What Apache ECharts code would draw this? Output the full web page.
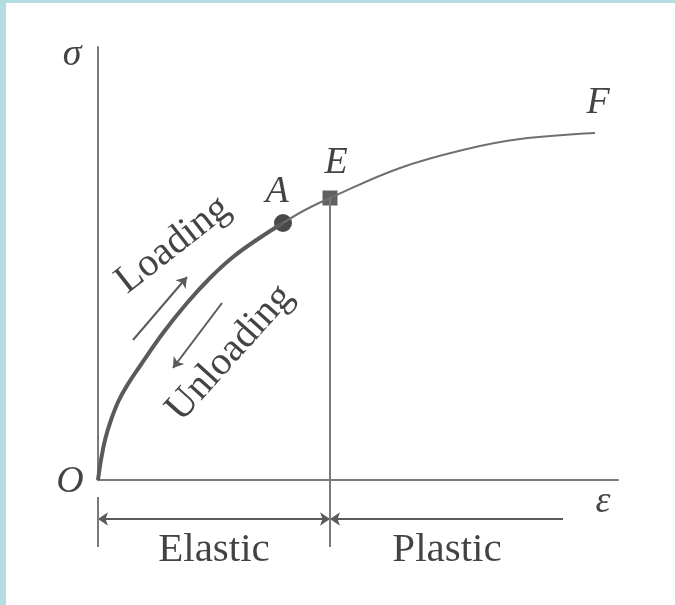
<!DOCTYPE html>
<html>
<head>
<meta charset="utf-8">
<script src="https://cdn.jsdelivr.net/npm/echarts@6/dist/echarts.min.js"></script>
<style>
html,body{margin:0;padding:0;background:#fff;}
#chart{position:absolute;left:0;top:0;width:675px;height:605px;}
.bl{position:absolute;left:0;top:0;width:6px;height:605px;background:#b4dde0;z-index:5;}
.bt{position:absolute;left:0;top:0;width:675px;height:3px;background:#b4dde0;z-index:5;}
</style>
</head>
<body>
<div id="chart"></div>
<div class="bl"></div><div class="bt"></div>
<script>
// Loading branch O -> A (strain, stress in arbitrary units)
const loadStrain = [0, 0.03, 0.07, 0.13, 0.21, 0.30, 0.42, 0.65, 0.89, 1.12, 1.35, 1.60, 1.85];
const loadStress = [0, 0.20, 0.40, 0.60, 0.80, 0.96, 1.14, 1.47, 1.77, 2.02, 2.23, 2.41, 2.57];
// Continuation A -> E -> F
const upperStrain = [1.85, 2.07, 2.32, 3.02, 3.69, 4.22, 4.97];
const upperStress = [2.57, 2.70, 2.82, 3.12, 3.31, 3.41, 3.47];
// Key points
const pointNames = ['A', 'E'];
const pointStrain = [1.85, 2.32];
const pointStress = [2.57, 2.82];
// Dimension levels
const dimLevel = -0.39;
const extBottom = -0.67;
const extTop = -0.17;
const plasticEnd = 4.65;
// Arrows along the curve
const loadArrow = [[0.35, 1.40], [0.89, 2.03]];
const unloadArrow = [[1.24, 1.77], [0.75, 1.12]];
// Text labels
const labelText = ['σ', 'O', 'ε', 'F', 'E', 'A', 'Elastic', 'Plastic', 'Loading', 'Unloading'];
const labelStrain = [-0.26, -0.28, 5.05, 5.00, 2.38, 1.79, 1.16, 3.49, 0.75, 1.32];
const labelStress = [4.25, -0.02, -0.22, 3.77, 3.17, 2.88, -0.70, -0.70, 2.35, 1.27];
const labelRotate = [0, 0, 0, 0, 0, 0, 0, 0, 38, 48];
const labelItalic = [true, true, true, true, true, true, false, false, false, false];

const serif = '"Liberation Serif","DejaVu Serif",serif';
const zip = (a, b) => a.map((v, i) => [v, b[i]]);

const chart = echarts.init(document.getElementById('chart'), null, {renderer: 'canvas'});

const labelData = labelText.map((t, i) => ({
  value: [labelStrain[i], labelStress[i]],
  label: {
    show: true, formatter: t, position: 'inside', rotate: labelRotate[i],
    fontFamily: serif, fontStyle: labelItalic[i] ? 'italic' : 'normal',
    fontSize: labelItalic[i] ? 38 : (i >= 8 ? 40 : 41), color: '#141414',
    align: 'center', verticalAlign: 'middle'
  }
}));

chart.setOption({
  animation: false,
  backgroundColor: 'transparent',
  grid: {left: 98, top: 47, right: 57, bottom: 125, containLabel: false},
  xAxis: {type: 'value', min: 0, max: 5.2, axisLine: {show: true, onZero: false, lineStyle: {color: '#7a7a7a', width: 2}},
    axisTick: {show: false}, axisLabel: {show: false}, splitLine: {show: false}},
  yAxis: {type: 'value', min: 0, max: 4.33, axisLine: {show: true, onZero: false, lineStyle: {color: '#7a7a7a', width: 2}},
    axisTick: {show: false}, axisLabel: {show: false}, splitLine: {show: false}},
  series: [
    {type: 'line', data: zip(loadStrain, loadStress), smooth: 0.4, symbol: 'none', clip: false,
      lineStyle: {color: '#5a5a5a', width: 4}},
    {type: 'line', data: zip(upperStrain, upperStress), smooth: 0.4, symbol: 'none', clip: false,
      lineStyle: {color: '#707070', width: 2}},
    // vertical line at E
    {type: 'line', data: [[pointStrain[1], pointStress[1]], [pointStrain[1], extBottom]], symbol: 'none', clip: false,
      lineStyle: {color: '#7a7a7a', width: 2}},
    // left extension line
    {type: 'line', data: [[0, extTop], [0, extBottom]], symbol: 'none', clip: false,
      lineStyle: {color: '#7a7a7a', width: 2}},
    // dimension arrows and loading arrows
    {type: 'lines', coordinateSystem: 'cartesian2d', clip: false, symbol: ['arrow', 'arrow'], symbolSize: 10,
      lineStyle: {color: '#5a5a5a', width: 2, opacity: 1},
      data: [{coords: [[0, dimLevel], [pointStrain[1], dimLevel]]}]},
    {type: 'lines', coordinateSystem: 'cartesian2d', clip: false, symbol: ['none', 'arrow'], symbolSize: 10,
      lineStyle: {color: '#5a5a5a', width: 2, opacity: 1},
      data: [{coords: [[plasticEnd, dimLevel], [pointStrain[1], dimLevel]]}, {coords: loadArrow}, {coords: unloadArrow}]},
    // points A and E
    {type: 'scatter', clip: false, data: [
      {value: [pointStrain[0], pointStress[0]], symbol: 'circle', symbolSize: 18, itemStyle: {color: '#1c1c1c'}},
      {value: [pointStrain[1], pointStress[1]], symbol: 'rect', symbolSize: 15, itemStyle: {color: '#3a3a3a'}}
    ]},
    // text labels
    {type: 'scatter', clip: false, symbolSize: 1, itemStyle: {color: 'rgba(0,0,0,0)'}, data: labelData, z: 10}
  ]
});
</script>
</body>
</html>
